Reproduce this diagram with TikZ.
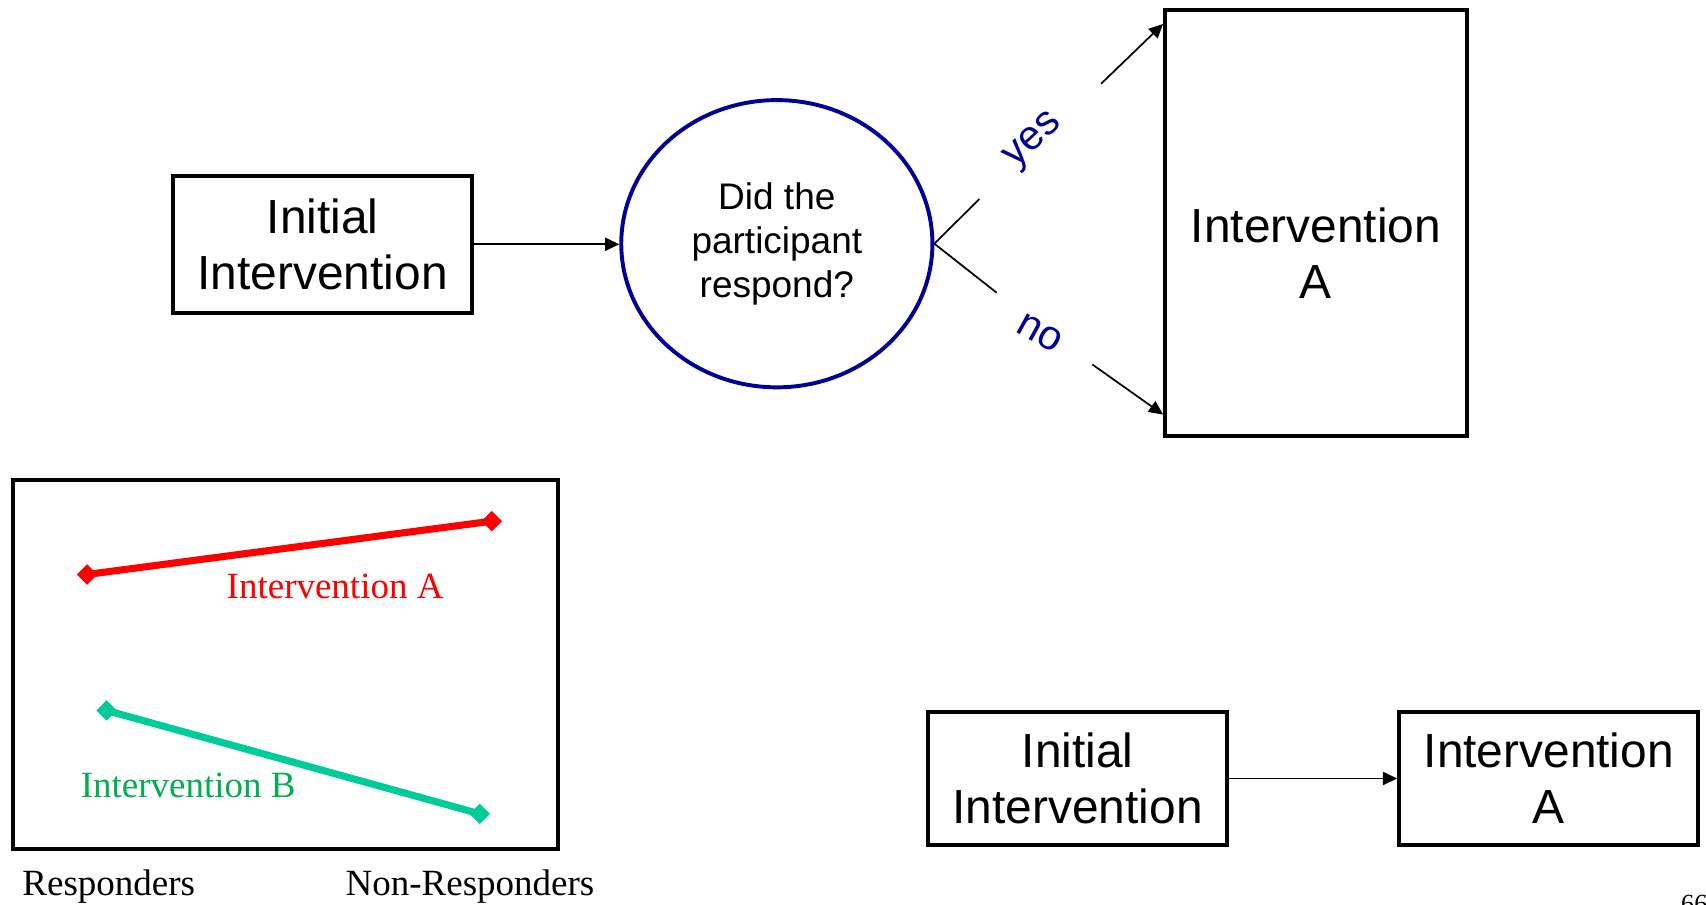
\documentclass[tikz,border=0pt]{standalone}
\usepackage{fontspec}
\setmainfont{Liberation Serif}
\newfontfamily\arialfont{Liberation Sans}
\usetikzlibrary{arrows.meta,shapes.geometric}
\definecolor{navy}{HTML}{000099}
\definecolor{seagreen}{HTML}{00CC99}
\definecolor{labelgreen}{HTML}{00B050}
\definecolor{plotred}{HTML}{FF0000}

\begin{document}
\begin{tikzpicture}[x=1pt,y=-1pt,
  box/.style={draw,line width=3.8pt,rectangle,inner sep=0pt,minimum width=275pt},
  boxtext/.style={font=\arialfont\fontsize{44}{51.5}\selectfont,align=center,inner sep=0pt},
  question/.style={ellipse,draw=navy,line width=3.6pt,minimum width=286pt,minimum height=264pt,
    inner sep=0pt,font=\arialfont\fontsize{34}{40.6}\selectfont,align=center},
  link/.style={line width=1.6pt},
  arrowlink/.style={link,-{Triangle[length=13pt,width=12pt]}},
  answer/.style={text=navy,font=\arialfont\fontsize{38}{40}\selectfont,inner sep=0pt},
  marker/.style={diamond,inner sep=0pt,minimum width=19pt,minimum height=19pt},
  plottext/.style={font=\fontsize{34}{38}\selectfont,inner sep=0pt}
]
\clip (0,0) rectangle (1568,831);

% --- decision flow: initial step, question, intervention A ---
\node[box,boxtext,minimum height=126pt] (init) at (296.5,224.5) {Initial\\Intervention};
\node[question] (dec) at (714,224) {Did the\\participant\\respond?};
\node[box,minimum width=277pt,minimum height=392pt] (bigA) at (1209.5,205) {};
\node[boxtext] (bigAtext) at (1209.5,232.5) {Intervention\\A};

\draw[arrowlink] (init.east) -- (init.east -| dec.west);

\coordinate (yesend) at (900,183);
\coordinate (yesstart) at (1012,77);
\coordinate (yestip) at (1069,22);
\coordinate (noend) at (916,269);
\coordinate (nostart) at (1004,335);
\coordinate (notip) at (1069,381);

\draw[link] (dec.east) -- (yesend);
\draw[link] (dec.east) -- (noend);
\draw[arrowlink] (yesstart) -- (yestip);
\draw[arrowlink] (nostart) -- (notip);

\node[answer,rotate=43] (yes) at (951,130) {yes};
\node[answer,rotate=-29] (no) at (956,306) {no};

% --- interaction plot ---
\node[box,minimum width=501pt,minimum height=339pt] (plot) at (262.5,610.5) {};

\node[marker,fill=plotred] (a1) at (80,528) {};
\node[marker,fill=plotred] (a2) at (452,479) {};
\draw[plotred,line width=6.5pt] (a1.center) -- (a2.center);

\node[marker,fill=seagreen] (b1) at (98,653) {};
\node[marker,fill=seagreen] (b2) at (441,748) {};
\draw[seagreen,line width=6.5pt] (b1.center) -- (b2.center);

\node[plottext,text=plotred] (alabel) at (308,539) {Intervention A};
\node[plottext,text=labelgreen] (blabel) at (173,722) {Intervention B};
\node[plottext] (resp) at (100,815) {Responders};
\node[plottext] (nonresp) at (432,815) {Non-Responders};

% --- fixed sequence: initial step then intervention A ---
\node[box,boxtext,minimum height=123pt] (init2) at (990.5,715.5) {Initial\\Intervention};
\node[box,boxtext,minimum height=123pt] (intA2) at (1423.5,715.5) {Intervention\\A};
\draw[arrowlink] (init2.east) -- (intA2.west);

% page number
\node[anchor=north west,inner sep=0pt,font=\fontsize{24}{26}\selectfont] (page) at (1545,823) {66};
\end{tikzpicture}
\end{document}
